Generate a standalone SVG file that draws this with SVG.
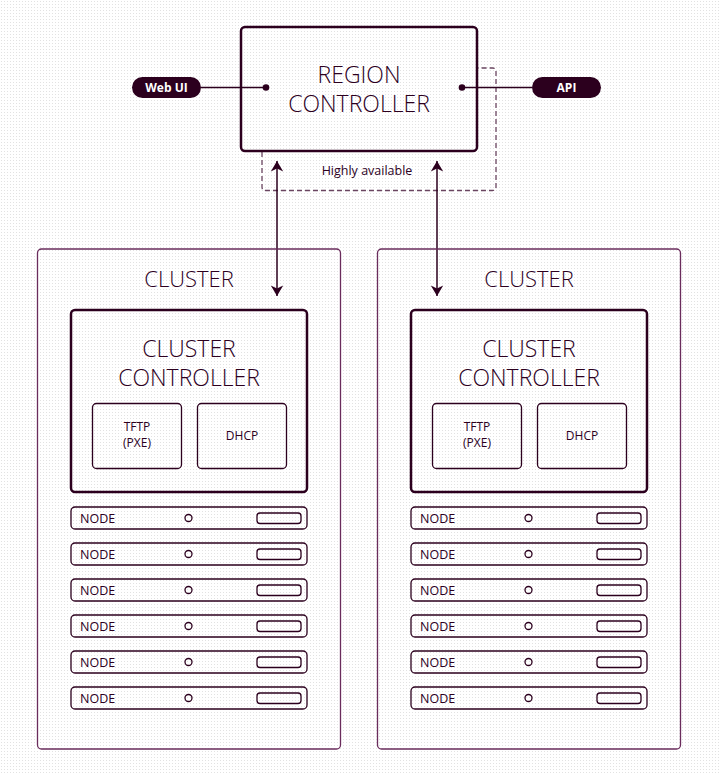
<svg xmlns="http://www.w3.org/2000/svg" width="720" height="774" viewBox="0 0 720 774">
<defs>
  <pattern id="dots" width="3" height="3" patternUnits="userSpaceOnUse">
    <rect x="1" y="1" width="1" height="1" fill="#e2e2e2"/>
  </pattern>
  <marker id="ah" viewBox="-12 -7 13 14" markerWidth="13" markerHeight="14" refX="0" refY="0" orient="auto-start-reverse" markerUnits="userSpaceOnUse">
    <path d="M0,0 L-10.5,-6.2 L-7.5,0 L-10.5,6.2 Z" fill="#2c001e"/>
  </marker>
  <style>
    .t { font-family: "Open Sans", "Liberation Sans", sans-serif; fill: #2c001e; }
    .big { font-size: 23px; font-weight: 300; text-anchor: middle; }
    .sm { font-size: 12px; text-anchor: middle; }
    .node { font-size: 12.5px; }
    .pill { fill: #2c001e; }
    .pt { font-family: "Open Sans", "Liberation Sans", sans-serif; font-size: 12px; font-weight: 700; fill: #ffffff; text-anchor: middle; }
    .thick { fill: none; stroke: #2c001e; stroke-width: 2.5; }
    .thin { fill: none; stroke: #2c001e; stroke-width: 1.3; }
    .outer { fill: none; stroke: #6a2c5c; stroke-width: 1.3; }
    .conn { fill: none; stroke: #2c001e; stroke-width: 1.5; }
  </style>
</defs>
<rect width="720" height="774" fill="#ffffff"/>
<rect width="720" height="774" fill="url(#dots)"/>

<g id="ha-group">
  <path d="M262,152 L262,187 Q262,190.5 265.5,190.5 L492.5,190.5 Q496,190.5 496,187 L496,71.5 Q496,68 492.5,68 L478,68" fill="none" stroke="#6a4560" stroke-width="1.3" stroke-dasharray="5,3"/>
  <text class="t" x="367" y="175" style="font-size:12.5px;text-anchor:middle">Highly available</text>
</g>

<g id="region-controller">
  <rect class="thick" x="241" y="27" width="236" height="124" rx="4"/>
  <text class="t big" x="359" y="83">REGION</text>
  <text class="t big" x="359" y="112">CONTROLLER</text>
</g>

<g id="web-ui">
  <rect class="pill" x="132" y="77" width="69" height="21" rx="10.5"/>
  <text class="pt" x="166.5" y="92">Web UI</text>
</g>
<g id="api">
  <rect class="pill" x="532" y="77" width="69" height="21" rx="10.5"/>
  <text class="pt" x="566.5" y="92">API</text>
</g>

<g id="connectors">
  <line class="conn" x1="201" y1="87.5" x2="266" y2="87.5"/>
  <circle cx="266" cy="87.5" r="3.3" fill="#2c001e"/>
  <line class="conn" x1="462" y1="87.5" x2="532" y2="87.5"/>
  <circle cx="462" cy="87.5" r="3.3" fill="#2c001e"/>
  <line class="conn" x1="277" y1="161" x2="277" y2="296" marker-start="url(#ah)" marker-end="url(#ah)"/>
  <line class="conn" x1="437" y1="161" x2="437" y2="296" marker-start="url(#ah)" marker-end="url(#ah)"/>
</g>

<g id="cluster-1">
  <rect class="outer" x="37.5" y="249" width="303" height="500" rx="4"/>
  <text class="t big" x="189" y="287" style="font-size:22px">CLUSTER</text>
  <g id="cluster-controller-1">
    <rect class="thick" x="71" y="310" width="236" height="182" rx="4"/>
    <text class="t big" x="189" y="357">CLUSTER</text>
    <text class="t big" x="189" y="386">CONTROLLER</text>
    <rect class="thin" x="92.5" y="403.5" width="89" height="65" rx="4"/>
    <text class="t sm" x="137" y="431">TFTP</text>
    <text class="t sm" x="137" y="447">(PXE)</text>
    <rect class="thin" x="197.5" y="403.5" width="89" height="65" rx="4"/>
    <text class="t sm" x="242" y="440">DHCP</text>
  </g>
  <g id="c1-node-1"><rect class="thin" x="71" y="507" width="236" height="22" rx="4"/><text class="t node" x="80" y="522.5">NODE</text><circle class="thin" cx="188.5" cy="518" r="3.5"/><rect class="thin" x="257" y="513" width="44" height="10.5" rx="3"/></g>
  <g id="c1-node-2"><rect class="thin" x="71" y="543" width="236" height="22" rx="4"/><text class="t node" x="80" y="558.5">NODE</text><circle class="thin" cx="188.5" cy="554" r="3.5"/><rect class="thin" x="257" y="549" width="44" height="10.5" rx="3"/></g>
  <g id="c1-node-3"><rect class="thin" x="71" y="579" width="236" height="22" rx="4"/><text class="t node" x="80" y="594.5">NODE</text><circle class="thin" cx="188.5" cy="590" r="3.5"/><rect class="thin" x="257" y="585" width="44" height="10.5" rx="3"/></g>
  <g id="c1-node-4"><rect class="thin" x="71" y="615" width="236" height="22" rx="4"/><text class="t node" x="80" y="630.5">NODE</text><circle class="thin" cx="188.5" cy="626" r="3.5"/><rect class="thin" x="257" y="621" width="44" height="10.5" rx="3"/></g>
  <g id="c1-node-5"><rect class="thin" x="71" y="651" width="236" height="22" rx="4"/><text class="t node" x="80" y="666.5">NODE</text><circle class="thin" cx="188.5" cy="662" r="3.5"/><rect class="thin" x="257" y="657" width="44" height="10.5" rx="3"/></g>
  <g id="c1-node-6"><rect class="thin" x="71" y="687" width="236" height="22" rx="4"/><text class="t node" x="80" y="702.5">NODE</text><circle class="thin" cx="188.5" cy="698" r="3.5"/><rect class="thin" x="257" y="693" width="44" height="10.5" rx="3"/></g>
</g>

<g id="cluster-2" transform="translate(340,0)">
  <rect class="outer" x="37.5" y="249" width="303" height="500" rx="4"/>
  <text class="t big" x="189" y="287" style="font-size:22px">CLUSTER</text>
  <g id="cluster-controller-2">
    <rect class="thick" x="71" y="310" width="236" height="182" rx="4"/>
    <text class="t big" x="189" y="357">CLUSTER</text>
    <text class="t big" x="189" y="386">CONTROLLER</text>
    <rect class="thin" x="92.5" y="403.5" width="89" height="65" rx="4"/>
    <text class="t sm" x="137" y="431">TFTP</text>
    <text class="t sm" x="137" y="447">(PXE)</text>
    <rect class="thin" x="197.5" y="403.5" width="89" height="65" rx="4"/>
    <text class="t sm" x="242" y="440">DHCP</text>
  </g>
  <g id="c2-node-1"><rect class="thin" x="71" y="507" width="236" height="22" rx="4"/><text class="t node" x="80" y="522.5">NODE</text><circle class="thin" cx="188.5" cy="518" r="3.5"/><rect class="thin" x="257" y="513" width="44" height="10.5" rx="3"/></g>
  <g id="c2-node-2"><rect class="thin" x="71" y="543" width="236" height="22" rx="4"/><text class="t node" x="80" y="558.5">NODE</text><circle class="thin" cx="188.5" cy="554" r="3.5"/><rect class="thin" x="257" y="549" width="44" height="10.5" rx="3"/></g>
  <g id="c2-node-3"><rect class="thin" x="71" y="579" width="236" height="22" rx="4"/><text class="t node" x="80" y="594.5">NODE</text><circle class="thin" cx="188.5" cy="590" r="3.5"/><rect class="thin" x="257" y="585" width="44" height="10.5" rx="3"/></g>
  <g id="c2-node-4"><rect class="thin" x="71" y="615" width="236" height="22" rx="4"/><text class="t node" x="80" y="630.5">NODE</text><circle class="thin" cx="188.5" cy="626" r="3.5"/><rect class="thin" x="257" y="621" width="44" height="10.5" rx="3"/></g>
  <g id="c2-node-5"><rect class="thin" x="71" y="651" width="236" height="22" rx="4"/><text class="t node" x="80" y="666.5">NODE</text><circle class="thin" cx="188.5" cy="662" r="3.5"/><rect class="thin" x="257" y="657" width="44" height="10.5" rx="3"/></g>
  <g id="c2-node-6"><rect class="thin" x="71" y="687" width="236" height="22" rx="4"/><text class="t node" x="80" y="702.5">NODE</text><circle class="thin" cx="188.5" cy="698" r="3.5"/><rect class="thin" x="257" y="693" width="44" height="10.5" rx="3"/></g>
</g>
</svg>
